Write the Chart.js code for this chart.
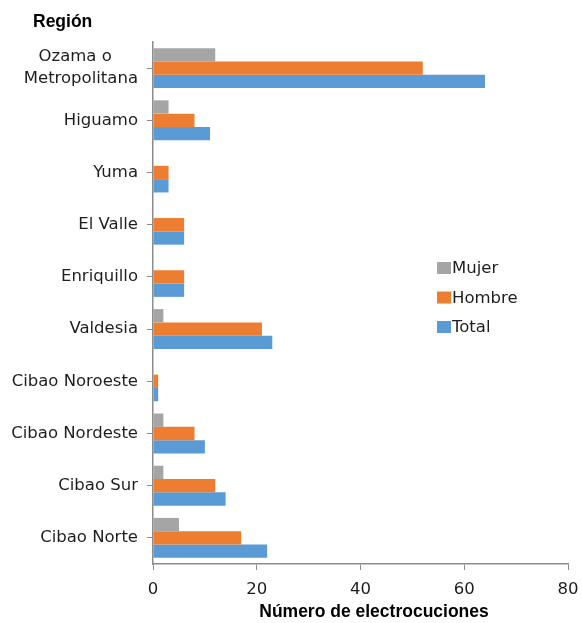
<!DOCTYPE html>
<html>
<head>
<meta charset="utf-8">
<script src="https://cdn.jsdelivr.net/npm/chart.js@4"></script>
<style>
  body { margin: 0; background: #fff; }
  #wrap { width: 582px; height: 623px; position: relative; }
</style>
</head>
<body>
<div id="wrap"><canvas id="graficoRegiones"></canvas></div>
<script>
// Regiones (de arriba hacia abajo)
const regiones = [
    ['Ozama o     ', 'Metropolitana'],
    'Higuamo',
    'Yuma',
    'El Valle',
    'Enriquillo',
    'Valdesia',
    'Cibao Noroeste',
    'Cibao Nordeste',
    'Cibao Sur',
    'Cibao Norte'
];
const mujer  = [12, 3, 0, 0, 0, 2, 0, 2, 2, 5];
const hombre = [52, 8, 3, 6, 6, 21, 1, 8, 12, 17];
const total  = [64, 11, 3, 6, 6, 23, 1, 10, 14, 22];
const ticksX = [0, 20, 40, 60, 80];

const gris = '#a5a5a5';
const colorEje = '#8c8c8c';
const colorTexto = '#1e1e1e';
const fuente = 'DejaVu Sans';

// leyenda y títulos a mano
const leyenda = {
    id: 'leyenda',
    afterDraw(chart) {
        const c = chart.ctx;
        c.save();
        c.font = '16.5px "' + fuente + '"';
        c.textBaseline = 'middle';
        chart.data.datasets.forEach((ds, i) => {
            let y = 268 + i * 29.5;
            c.fillStyle = ds.backgroundColor;
            c.fillRect(437, y - 6, 14, 12);
            c.fillStyle = colorTexto;
            c.fillText(ds.label, 452, y + 1);
        });
        c.font = 'bold 17.5px "Liberation Sans"';
        c.fillStyle = '#000';
        c.textAlign = 'left';
        c.fillText('Región', 33, 22);
        c.textAlign = 'center';
        c.fillText('Número de electrocuciones', 374, 612);
        c.restore();
    }
};

const ctx = document.getElementById('graficoRegiones').getContext('2d');

let chart = new Chart(ctx, {
    type: 'bar',
    data: {
        labels: regiones,
        datasets: [
            { label: 'Mujer', data: mujer, backgroundColor: gris },
            { label: 'Hombre', data: hombre, backgroundColor: '#ed7d31' },
            { label: 'Total', data: total, backgroundColor: '#5b9bd5' }
        ]
    },
    options: {
        indexAxis: 'y',
        responsive: true,
        maintainAspectRatio: false,
        animation: false,
        categoryPercentage: 0.765,
        barPercentage: 1,
        layout: { padding: { top: 42, right: 14, left: 0, bottom: 0 } },
        plugins: {
            legend: { display: false },
            tooltip: { enabled: false }
        },
        scales: {
            x: {
                min: 0,
                max: 80,
                afterBuildTicks: (s) => { s.ticks = ticksX.map(v => ({ value: v })); },
                afterFit: (s) => { s.height = 59; s.paddingLeft = 0; s.paddingRight = 0; },
                grid: { drawOnChartArea: false, drawTicks: true, tickLength: 6, color: colorEje },
                border: { display: true, color: colorEje, width: 1.5 },
                ticks: { color: colorTexto, font: { family: fuente, size: 16.5 }, padding: 10 }
            },
            y: {
                afterFit: (s) => { s.width = 153; s.paddingTop = 0; s.paddingBottom = 0; },
                grid: { offset: false, drawOnChartArea: false, drawTicks: true, tickLength: 6, color: colorEje },
                border: { display: true, color: colorEje, width: 1.5 },
                ticks: { color: colorTexto, font: { family: fuente, size: 16.5, lineHeight: 1.33 }, padding: 9 }
            }
        }
    },
    plugins: [leyenda]
});
</script>
</body>
</html>
